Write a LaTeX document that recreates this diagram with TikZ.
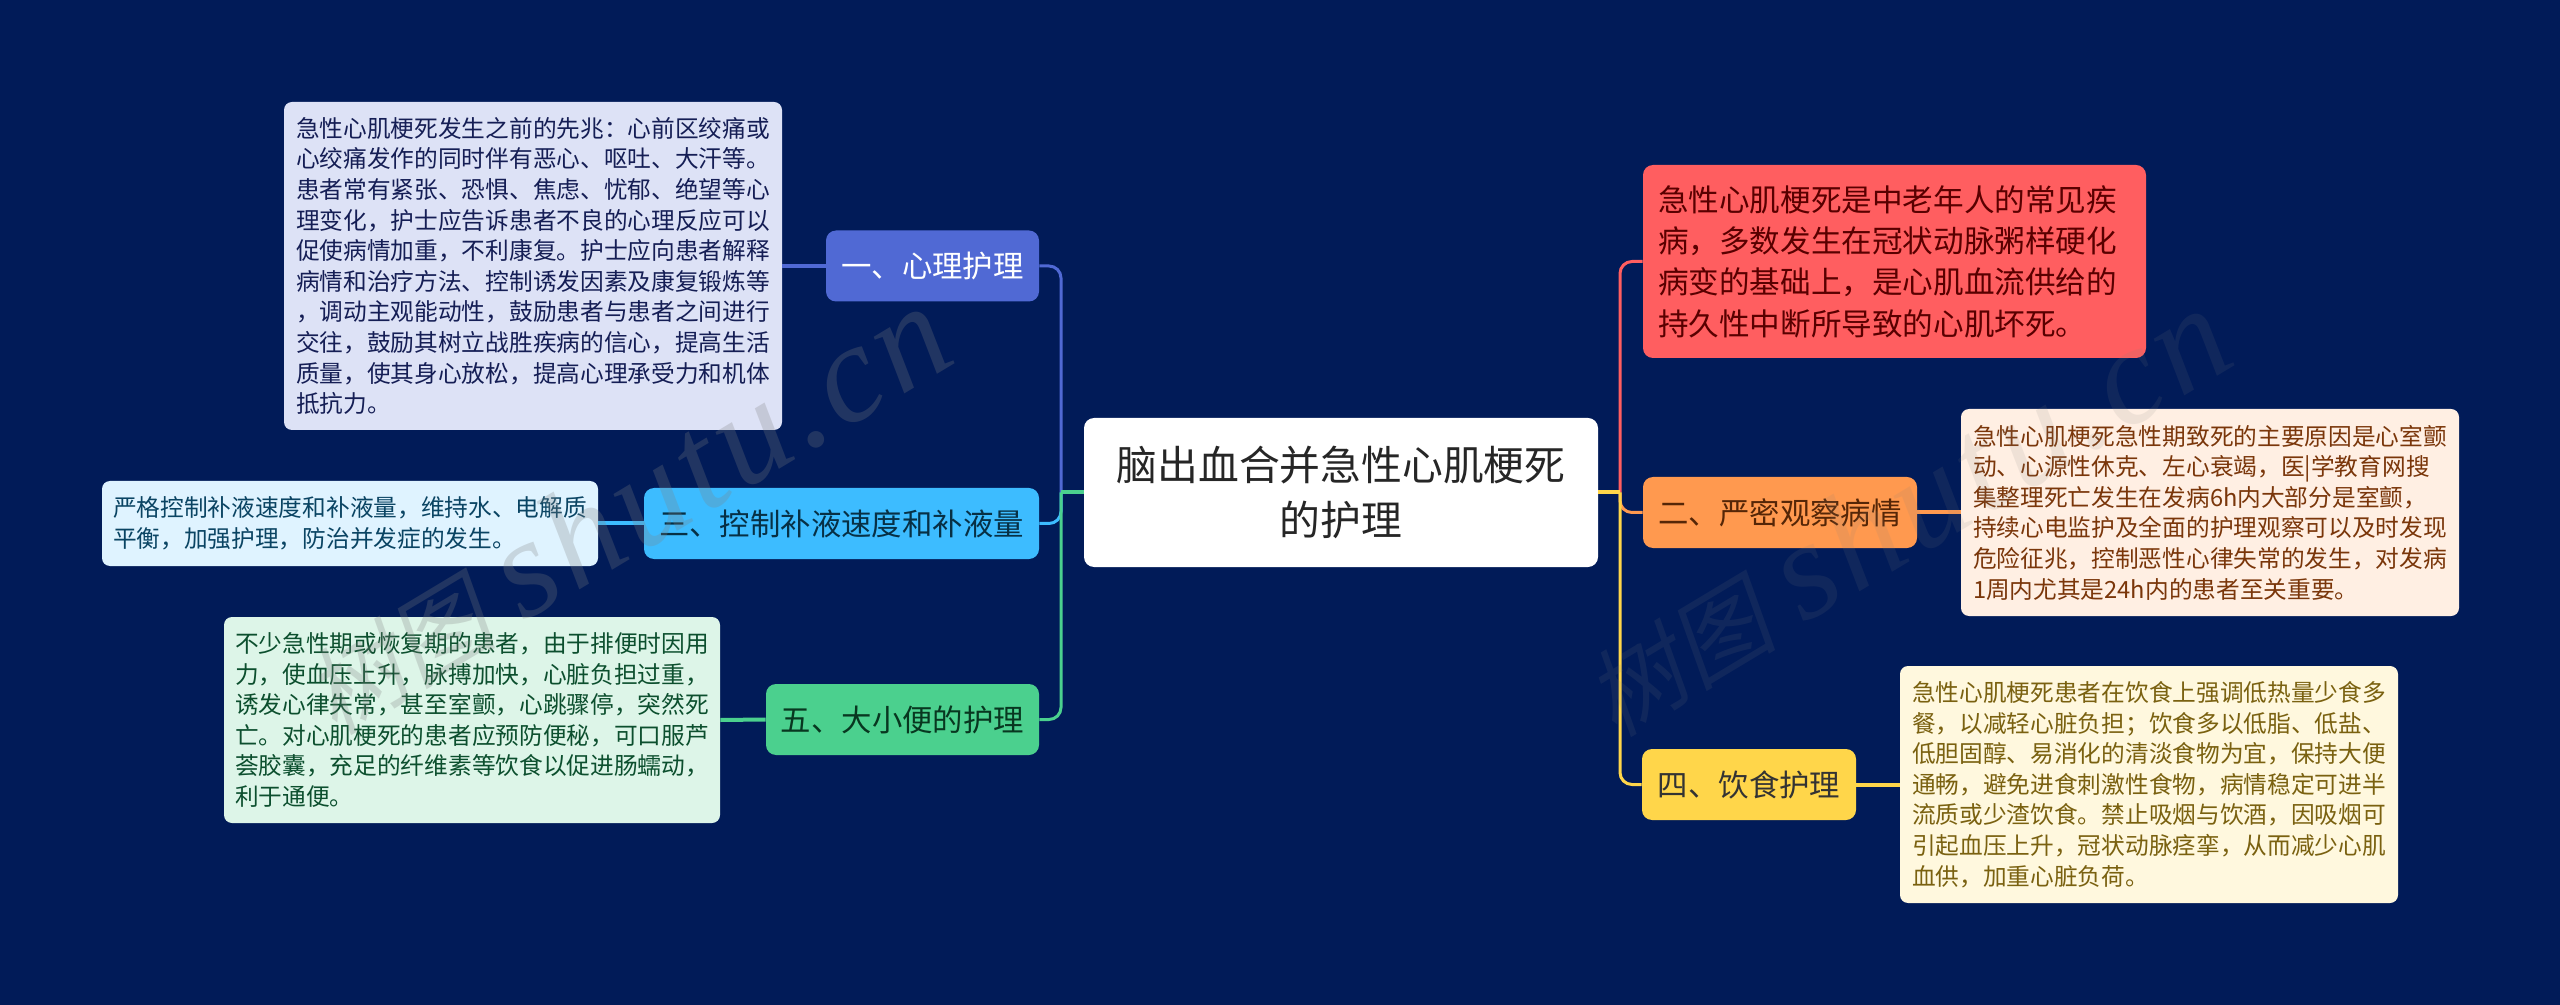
\documentclass[tikz,border=0pt]{standalone}
\usepackage{fontspec}
\setmainfont{Noto Sans CJK SC}
\newfontfamily\markfont[LetterSpace=4]{Liberation Serif}
\newfontfamily\markcjk[FakeSlant=0.2]{Noto Sans CJK SC}
\usetikzlibrary{positioning}
\usepackage{xcolor}
\definecolor{night}{HTML}{011B58}
\definecolor{xinli}{HTML}{5069D4}
\definecolor{xinliL}{HTML}{DDE2F6}
\definecolor{xinliT}{HTML}{151E55}
\definecolor{buye}{HTML}{3DBCFF}
\definecolor{buyeL}{HTML}{DFF3FF}
\definecolor{buyeT}{HTML}{0A4463}
\definecolor{dabian}{HTML}{4BD08E}
\definecolor{dabianL}{HTML}{DDF5E8}
\definecolor{dabianT}{HTML}{0C4F2E}
\definecolor{redbox}{HTML}{FF5E60}
\definecolor{guancha}{HTML}{FF994F}
\definecolor{guanchaL}{HTML}{FFEFE3}
\definecolor{guanchaT}{HTML}{7A360A}
\definecolor{yinshi}{HTML}{FFD64A}
\definecolor{yinshiL}{HTML}{FFF8DE}
\definecolor{yinshiT}{HTML}{7A6110}
\tikzset{
  boxN/.style={rectangle, rounded corners=5pt, inner sep=0pt, align=left},
  branch/.style={boxN, font=\fontsize{15.2}{20}\selectfont, minimum height=35.5pt},
  detail/.style={boxN, rounded corners=4pt, font=\fontsize{11.85}{15.3}\selectfont},
  link/.style={line width=1.5pt, rounded corners=6pt},
  stub/.style={line width=2pt},
  wmark/.style={rotate=31, text=gray, font=\fontsize{48}{48}\selectfont},
}
\newcommand{\markText}{{\markcjk 树图}\hspace{14pt}{\markfont\itshape\fontsize{70}{70}\selectfont shutu.cn}}
\begin{document}
\begin{tikzpicture}[x=0.5pt, y=-0.5pt]
  \fill[night] (0,0) rectangle (2560,1005);
  \useasboundingbox (0,0) rectangle (2560,1005);

  %% Root
  \node[boxN, fill=white, text=black!85, align=center, minimum width=257pt, minimum height=74.5pt,
        font=\fontsize{20.4}{27.5}\selectfont] (root) at (1341,492.5)
    {脑出血合并急性心肌梗死\\的护理};

  %% Left branches
  \node[branch, fill=xinli, text=white, minimum width=106.5pt] (xinliB) at (932.5,266) {一、心理护理};
  \node[branch, fill=buye, text=buyeT!70!black, minimum width=197.5pt] (buyeB) at (841.5,523.5) {三、控制补液速度和补液量};
  \node[branch, fill=dabian, text=dabianT!70!black, minimum width=136.5pt] (dabianB) at (902.5,719.5) {五、大小便的护理};

  %% Right branches
  \node[boxN, fill=redbox, text=red!35!black, text width=236.5pt, minimum height=96.5pt,
        inner xsep=7.5pt, font=\fontsize{15.3}{20.7}\selectfont] (redB) at (1894.5,261.5)
    {急性心肌梗死是中老年人的常见疾\\病，多数发生在冠状动脉粥样硬化\\病变的基础上，是心肌血流供给的\\持久性中断所导致的心肌坏死。};
  \node[branch, fill=guancha, text=guanchaT!70!black, minimum width=137pt] (guanchaB) at (1780,512.5) {二、严密观察病情};
  \node[branch, fill=yinshi, text=black!80, minimum width=107pt] (yinshiB) at (1749,784.5) {四、饮食护理};

  %% Details
  \node[detail, fill=xinliL, text=xinliT, minimum width=249pt, minimum height=164pt] (xinliD) at (533,266)
    {急性心肌梗死发生之前的先兆：心前区绞痛或\\心绞痛发作的同时伴有恶心、呕吐、大汗等。\\患者常有紧张、恐惧、焦虑、忧郁、绝望等心\\理变化，护士应告诉患者不良的心理反应可以\\促使病情加重，不利康复。护士应向患者解释\\病情和治疗方法、控制诱发因素及康复锻炼等\\，调动主观能动性，鼓励患者与患者之间进行\\交往，鼓励其树立战胜疾病的信心，提高生活\\质量，使其身心放松，提高心理承受力和机体\\抵抗力。};
  \node[detail, fill=buyeL, text=buyeT, minimum width=248pt, minimum height=42.5pt] (buyeD) at (350,523.5)
    {严格控制补液速度和补液量，维持水、电解质\\平衡，加强护理，防治并发症的发生。};
  \node[detail, fill=dabianL, text=dabianT, minimum width=248pt, minimum height=103pt] (dabianD) at (472,720)
    {不少急性期或恢复期的患者，由于排便时因用\\力，使血压上升，脉搏加快，心脏负担过重，\\诱发心律失常，甚至室颤，心跳骤停，突然死\\亡。对心肌梗死的患者应预防便秘，可口服芦\\荟胶囊，充足的纤维素等饮食以促进肠蠕动，\\利于通便。};
  \node[detail, fill=guanchaL, text=guanchaT, minimum width=249pt, minimum height=103.5pt] (guanchaD) at (2210,512.5)
    {急性心肌梗死急性期致死的主要原因是心室颤\\动、心源性休克、左心衰竭，医|学教育网搜\\集整理死亡发生在发病6h内大部分是室颤，\\持续心电监护及全面的护理观察可以及时发现\\危险征兆，控制恶性心律失常的发生，对发病\\1周内尤其是24h内的患者至关重要。};
  \node[detail, fill=yinshiL, text=yinshiT, minimum width=249pt, minimum height=118.5pt] (yinshiD) at (2149,784.5)
    {急性心肌梗死患者在饮食上强调低热量少食多\\餐，以减轻心脏负担；饮食多以低脂、低盐、\\低胆固醇、易消化的清淡食物为宜，保持大便\\通畅，避免进食刺激性食物，病情稳定可进半\\流质或少渣饮食。禁止吸烟与饮酒，因吸烟可\\引起血压上升，冠状动脉痉挛，从而减少心肌\\血供，加重心脏负荷。};

  %% Connectors
  \coordinate (spineL) at (1061,492.5);
  \coordinate (spineR) at (1620,492.5);
  \draw[link, xinli] (spineL) |- (xinliB.east);
  \draw[link, buye] (spineL) |- (buyeB.east);
  \draw[link, dabian] (spineL) |- (dabianB.east);
  \draw[stub, dabian] (root.west) -- (spineL);
  \draw[link, redbox] (spineR) |- (redB.west);
  \draw[link, guancha] (spineR) |- (guanchaB.west);
  \draw[link, yinshi] (spineR) |- (yinshiB.west);
  \draw[stub, yinshi] (root.east) -- (spineR);
  \draw[stub, xinli] (xinliB.west) -- (xinliD.east);
  \draw[stub, buye] (buyeB.west) -- (buyeD.east);
  \draw[stub, dabian] (dabianB.west) -- (dabianD.east);
  \draw[stub, guancha] (guanchaB.east) -- (guanchaD.west);
  \draw[stub, yinshi] (yinshiB.east) -- (yinshiD.west);

  %% Watermarks
  \node[wmark, opacity=0.26] (markL) at (625,510) {\markText};
  \node[wmark, opacity=0.12] (markR) at (1905,512) {\markText};
\end{tikzpicture}
\end{document}
